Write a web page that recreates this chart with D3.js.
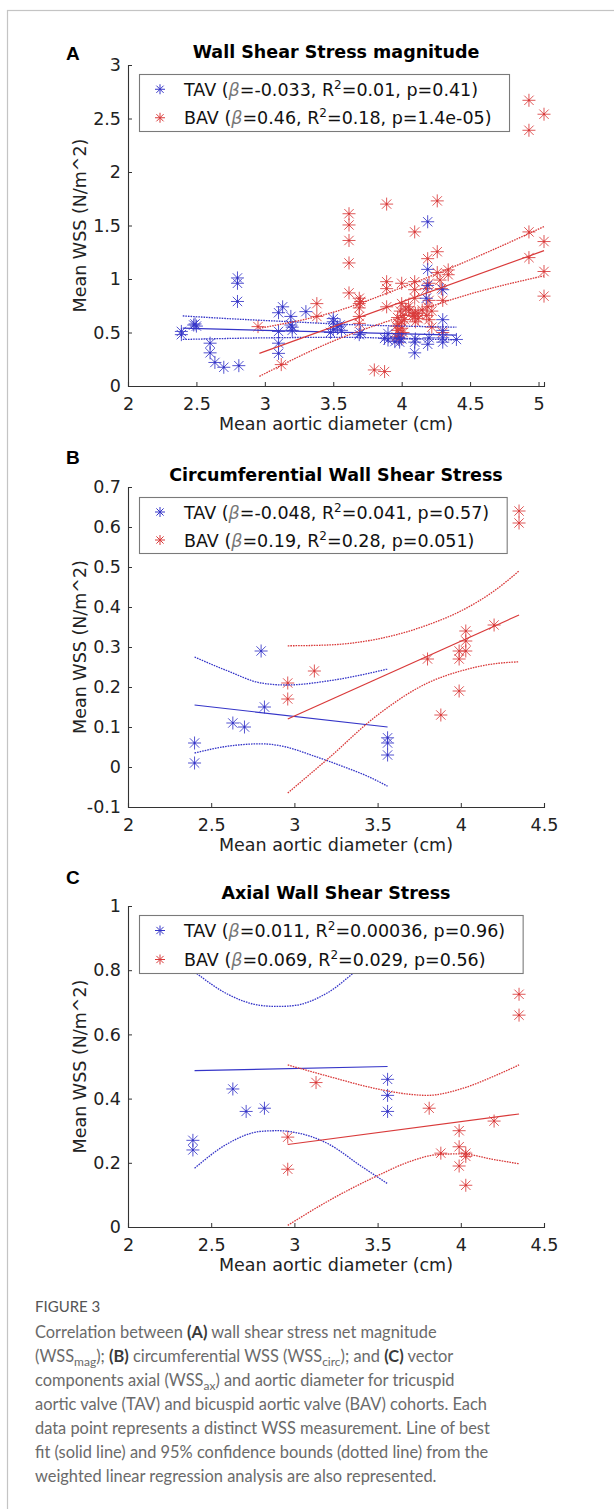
<!DOCTYPE html>
<html lang="en">
<head>
<meta charset="UTF-8">
<title>Figure 3 - WSS vs aortic diameter</title>
<script src="https://d3js.org/d3.v7.min.js"></script>
<style>
  body { margin: 0; background: #fff; }
  svg text { font-family: "DejaVu Sans", sans-serif; }
</style>
</head>
<body>
<svg id="fig" width="614" height="1509"></svg>
<script>
// ---- values ----
// panel A: WSS magnitude
const tavMag = [
  [2.39,0.51],[2.39,0.48],[2.49,0.58],[2.50,0.56],[2.48,0.57],
  [2.60,0.40],[2.60,0.31],[2.635,0.22],[2.70,0.175],[2.81,0.19],
  [2.80,1.01],[2.80,0.96],[2.80,0.79],
  [3.10,0.685],[3.13,0.74],[3.10,0.51],[3.10,0.40],[3.10,0.305],
  [3.19,0.65],[3.19,0.57],[3.20,0.52],[3.20,0.55],[3.30,0.695],
  [3.50,0.63],[3.50,0.60],[3.53,0.555],[3.56,0.52],[3.50,0.53],[3.55,0.57],[3.48,0.50],
  [3.69,0.48],[3.70,0.50],
  [3.875,0.445],[3.90,0.49],[3.90,0.43],[3.95,0.415],[3.985,0.41],[3.98,0.45],[4.00,0.44],
  [4.095,0.31],[4.095,0.41],[4.10,0.44],
  [4.19,1.535],[4.19,1.09],[4.19,0.94],[4.18,0.82],[4.19,0.39],[4.20,0.45],
  [4.30,0.90],[4.30,0.62],[4.30,0.52],[4.30,0.41],[4.30,0.45],[4.40,0.435]
];
const bavMag = [
  [2.95,0.555],[3.12,0.20],[3.38,0.77],[3.38,0.65],
  [3.615,1.61],[3.615,1.505],[3.615,1.36],[3.615,1.15],[3.615,0.87],
  [3.69,0.82],[3.69,0.77],[3.69,0.73],[3.69,0.65],[3.69,0.585],[3.70,0.79],
  [3.80,0.15],[3.875,0.135],
  [3.89,1.70],[3.89,0.975],[3.89,0.91],[3.89,0.74],
  [3.96,0.56],[3.97,0.52],[3.99,0.49],[3.96,0.46],[4.00,0.60],[3.99,0.70],[4.01,0.66],
  [4.00,0.77],[3.98,0.58],[4.00,0.54],[4.02,0.62],[3.97,0.64],[4.01,0.50],[3.98,0.44],
  [4.00,0.96],[4.03,0.72],[4.05,0.74],[4.06,0.71],[4.08,0.66],[4.10,0.68],[4.12,0.68],
  [4.15,0.71],[4.12,0.63],[4.10,0.60],
  [4.095,1.44],[4.095,0.975],[4.095,0.90],[4.095,0.82],[4.095,0.65],
  [4.26,1.73],[4.26,1.255],[4.19,1.19],[4.26,1.06],[4.20,0.96],[4.18,0.91],[4.19,0.74],
  [4.20,0.80],[4.22,0.70],[4.20,0.62],[4.22,0.55],[4.18,0.66],
  [4.28,0.99],[4.29,0.91],[4.30,0.80],[4.30,0.50],[4.34,1.085],[4.34,1.04],
  [4.93,2.67],[5.04,2.54],[4.93,2.39],[4.93,1.44],[4.93,1.20],[5.04,1.35],[5.04,1.07],[5.04,0.84]
];
const tavMagFit = [[2.40,0.54],[4.40,0.475]];
const tavMagHi = [[2.40,0.655],[2.8,0.625],[3.2,0.60],[3.6,0.575],[4.0,0.56],[4.40,0.55]];
const tavMagLo = [[2.40,0.435],[3.0,0.45],[3.5,0.455],[4.0,0.445],[4.40,0.43]];
const bavMagFit = [[2.96,0.305],[5.04,1.265]];
const bavMagHi = [[2.96,0.54],[3.5,0.69],[4.0,0.92],[4.5,1.18],[5.04,1.49]];
const bavMagLo = [[2.96,0.09],[3.5,0.42],[4.0,0.65],[4.5,0.86],[5.04,1.03]];

// panel B: circumferential WSS
const tavCirc = [[2.40,0.06],[2.40,0.01],[2.63,0.11],[2.70,0.10],[2.80,0.29],[2.82,0.15],
  [3.56,0.073],[3.56,0.06],[3.56,0.03]];
const bavCirc = [[2.96,0.21],[2.96,0.17],[3.12,0.24],[3.80,0.27],[3.88,0.13],
  [3.99,0.29],[3.99,0.27],[3.99,0.19],[4.03,0.34],[4.03,0.315],[4.03,0.29],
  [4.20,0.355],[4.35,0.64],[4.35,0.61]];
const tavCircFit = [[2.40,0.155],[3.56,0.10]];
const tavCircHi = [[2.40,0.275],[2.6,0.24],[2.8,0.21],[2.95,0.205],[3.2,0.215],[3.4,0.23],[3.56,0.245]];
const tavCircLo = [[2.40,0.035],[2.6,0.052],[2.8,0.058],[2.95,0.05],[3.1,0.03],[3.3,0.0],[3.45,-0.025],[3.56,-0.048]];
const bavCircFit = [[2.96,0.12],[4.35,0.38]];
const bavCircHi = [[2.96,0.303],[3.2,0.305],[3.5,0.32],[3.8,0.355],[4.0,0.39],[4.2,0.44],[4.35,0.49]];
const bavCircLo = [[2.96,-0.065],[3.2,0.02],[3.5,0.13],[3.8,0.21],[4.0,0.24],[4.2,0.258],[4.35,0.263]];

// panel C: axial WSS
const tavAx = [[2.39,0.27],[2.39,0.24],[2.63,0.43],[2.71,0.36],[2.82,0.37],
  [3.56,0.46],[3.56,0.41],[3.56,0.36]];
const bavAx = [[2.96,0.28],[2.96,0.18],[3.13,0.45],[3.81,0.37],[3.88,0.23],
  [3.99,0.30],[3.99,0.25],[3.99,0.19],[4.03,0.23],[4.03,0.22],[4.03,0.13],
  [4.20,0.33],[4.35,0.725],[4.35,0.66]];
const tavAxFit = [[2.40,0.487],[3.56,0.50]];
const tavAxHi = [[2.40,0.795],[2.6,0.725],[2.8,0.69],[2.9,0.687],[3.0,0.69],[3.2,0.73],[3.4,0.81],[3.56,0.87]];
const tavAxLo = [[2.40,0.183],[2.6,0.26],[2.8,0.298],[2.9,0.30],[3.0,0.295],[3.2,0.26],[3.4,0.19],[3.56,0.135]];
const bavAxFit = [[2.96,0.257],[4.35,0.352]];
const bavAxHi = [[2.96,0.505],[3.2,0.47],[3.5,0.43],[3.7,0.413],[3.8,0.41],[4.0,0.43],[4.2,0.47],[4.35,0.505]];
const bavAxLo = [[2.96,0.005],[3.2,0.08],[3.5,0.16],[3.7,0.205],[3.85,0.225],[4.0,0.228],[4.2,0.21],[4.35,0.197]];

// ticks
const xTicksA = [2, 2.5, 3, 3.5, 4, 4.5, 5];
const xTicksBC = [2, 2.5, 3, 3.5, 4, 4.5];
const yTicksA = [0, 0.5, 1, 1.5, 2, 2.5, 3];
const yTicksB = [-0.1, 0, 0.1, 0.2, 0.3, 0.4, 0.5, 0.6, 0.7];
const yTicksC = [0, 0.2, 0.4, 0.6, 0.8, 1];

// legend statistics [beta, R2, p]
const statsA = [["-0.033", "0.01", "0.41"], ["0.46", "0.18", "1.4e-05"]];
const statsB = [["-0.048", "0.041", "0.57"], ["0.19", "0.28", "0.051"]];
const statsC = [["0.011", "0.00036", "0.96"], ["0.069", "0.029", "0.56"]];
const groups = ["TAV", "BAV"];

const captionLines = [
  [["Correlation between "], ["(A)", "b"], [" wall shear stress net magnitude"]],
  [["(WSS"], ["mag", "sub"], ["); "], ["(B)", "b"], [" circumferential WSS (WSS"], ["circ", "sub"], ["); and "], ["(C)", "b"], [" vector"]],
  [["components axial (WSS"], ["ax", "sub"], [") and aortic diameter for tricuspid"]],
  [["aortic valve (TAV) and bicuspid aortic valve (BAV) cohorts. Each"]],
  [["data point represents a distinct WSS measurement. Line of best"]],
  [["fit (solid line) and 95% confidence bounds (dotted line) from the"]],
  [["weighted linear regression analysis are also represented."]]
];

// ---- drawing ----
const BLUE = "#3535c8", RED = "#d93a3a", AXIS = "#333";
const svg = d3.select("#fig");
const fmt = v => d3.format("~g")(v).replace("\u2212", "-");

// page frame
svg.append("rect").attr("x", 7.5).attr("y", 10.5).attr("width", 640).attr("height", 1540)
  .attr("fill", "none").attr("stroke", "#c4c4c4").attr("stroke-width", 1.2);

const panels = [
  { letter: "A", letterY: 60, title: "Wall Shear Stress magnitude", titleY: 58,
    top: 65, bottom: 386, xDom: [2, 5.04], yDom: [0, 3], xTicks: xTicksA, yTicks: yTicksA,
    tav: tavMag, bav: bavMag, tavLines: [tavMagFit, tavMagHi, tavMagLo], bavLines: [bavMagFit, bavMagHi, bavMagLo],
    stats: statsA, legTop: 74, legBottom: 131 },
  { letter: "B", letterY: 464, title: "Circumferential Wall Shear Stress", titleY: 481,
    top: 487, bottom: 807, xDom: [2, 4.5], yDom: [-0.1, 0.7], xTicks: xTicksBC, yTicks: yTicksB,
    tav: tavCirc, bav: bavCirc, tavLines: [tavCircFit, tavCircHi, tavCircLo], bavLines: [bavCircFit, bavCircHi, bavCircLo],
    stats: statsB, legTop: 497, legBottom: 553 },
  { letter: "C", letterY: 884, title: "Axial Wall Shear Stress", titleY: 899,
    top: 906, bottom: 1227, xDom: [2, 4.5], yDom: [0, 1], xTicks: xTicksBC, yTicks: yTicksC,
    tav: tavAx, bav: bavAx, tavLines: [tavAxFit, tavAxHi, tavAxLo], bavLines: [bavAxFit, bavAxHi, bavAxLo],
    stats: statsC, legTop: 915, legBottom: 973 }
];

const left = 128, right = 544;

function star(x, y, r) {
  const d = r * 0.72;
  return `M${x - r},${y}H${x + r}M${x},${y - r}V${y + r}` +
         `M${x - d},${y - d}L${x + d},${y + d}M${x - d},${y + d}L${x + d},${y - d}`;
}

panels.forEach(p => {
  const g = svg.append("g");
  const x = d3.scaleLinear().domain(p.xDom).range([left, right]);
  const y = d3.scaleLinear().domain(p.yDom).range([p.bottom, p.top]);

  g.append("text").attr("x", 66).attr("y", p.letterY)
    .style("font-family", "'Liberation Sans', Arial, sans-serif")
    .attr("font-weight", "bold").attr("font-size", 19).text(p.letter);
  g.append("text").attr("x", (left + right) / 2).attr("y", p.titleY)
    .attr("text-anchor", "middle").attr("font-weight", "bold").attr("font-size", 17.5).text(p.title);

  // axes (box off, ticks inward)
  const xAxis = g.append("g").attr("transform", `translate(0,${p.bottom})`)
    .call(d3.axisBottom(x).tickValues(p.xTicks).tickSize(-4).tickPadding(9).tickFormat(fmt));
  const yAxis = g.append("g").attr("transform", `translate(${left},0)`)
    .call(d3.axisLeft(y).tickValues(p.yTicks).tickSize(-4).tickPadding(7).tickFormat(fmt));
  [xAxis, yAxis].forEach(a => {
    a.select(".domain").attr("stroke", AXIS).attr("stroke-width", 1.1);
    a.selectAll(".tick line").attr("stroke", AXIS);
    a.selectAll(".tick text").attr("fill", "#222").style("font-family", "'DejaVu Sans', sans-serif").attr("font-size", 17.5);
  });
  xAxis.selectAll(".tick text").attr("dy", "0.85em");

  g.append("text").attr("x", (left + right) / 2).attr("y", p.bottom + 44)
    .attr("text-anchor", "middle").attr("font-size", 17.5).attr("fill", "#222").text("Mean aortic diameter (cm)");
  g.append("text").attr("transform", `translate(86,${(p.top + p.bottom) / 2}) rotate(-90)`)
    .attr("text-anchor", "middle").attr("font-size", 17.5).attr("fill", "#222").text("Mean WSS (N/m^2)");

  // scatter
  const plotSeries = (pts, color) => {
    g.append("g").selectAll("path").data(pts).join("path")
      .attr("d", d => star(x(d[0]), y(d[1]), 6.5))
      .attr("fill", "none").attr("stroke", color).attr("stroke-width", 1).attr("stroke-opacity", 0.85);
    g.append("g").selectAll("circle").data(pts).join("circle")
      .attr("cx", d => x(d[0])).attr("cy", d => y(d[1])).attr("r", 1.1).attr("fill", color);
  };
  plotSeries(p.bav, RED);
  plotSeries(p.tav, BLUE);

  // regression line + 95% CI
  const line = d3.line().x(d => x(d[0])).y(d => y(d[1])).curve(d3.curveMonotoneX);
  const drawLines = (set, color) => {
    set.forEach((pts, i) => {
      g.append("path").datum(pts).attr("d", line).attr("fill", "none")
        .attr("stroke", color).attr("stroke-width", i === 0 ? 1.2 : 1.3)
        .attr("stroke-dasharray", i === 0 ? null : "1.6,1");
    });
  };
  drawLines(p.tavLines, BLUE);
  drawLines(p.bavLines, RED);

  // legend
  const leg = g.append("g");
  const box = leg.append("rect").attr("x", 139.5).attr("y", p.legTop + 0.5)
    .attr("height", p.legBottom - p.legTop).attr("fill", "#fff").attr("stroke", "#7a7a7a").attr("stroke-width", 1.1);
  const rowGap = (p.legBottom - p.legTop) / 2;
  let maxRight = 0;
  groups.forEach((name, i) => {
    const cy = p.legTop + rowGap * (i + 0.5) + 1;
    leg.append("path").attr("d", star(160, cy, 5)).attr("fill", "none")
      .attr("stroke", i === 0 ? BLUE : RED).attr("stroke-width", 1);
    const s = p.stats[i];
    const t = leg.append("text").attr("x", 184).attr("y", cy + 6.5).attr("font-size", 17.5).attr("fill", "#111");
    t.append("tspan").text(`${name} (`);
    t.append("tspan").attr("font-style", "italic").attr("fill", "#777").text("\u03b2");
    t.append("tspan").text(`=${s[0]}, R`);
    t.append("tspan").attr("font-size", 12).attr("dy", -7).text("2");
    t.append("tspan").attr("dy", 7).text(`=${s[1]}, p=${s[2]})`);
    maxRight = Math.max(maxRight, 184 + t.node().getComputedTextLength());
  });
  box.attr("width", maxRight + 18 - 139.5);
});

// caption
const cap = svg.append("g");
cap.append("text").attr("x", 35).attr("y", 1312).attr("font-size", 15).attr("fill", "#555")
  .style("font-family", "Lato, sans-serif").text("FIGURE 3");
captionLines.forEach((parts, i) => {
  const t = cap.append("text").attr("x", 35).attr("y", 1338 + i * 24)
    .attr("font-size", 16.4).attr("fill", "#6a6a6a").style("font-family", "Lato, sans-serif");
  let shift = 0;
  parts.forEach(([txt, kind]) => {
    const s = t.append("tspan").text(txt);
    if (kind === "sub") {
      s.attr("font-size", 12).attr("dy", 4);
      shift = -4;
      return;
    }
    if (shift) { s.attr("dy", shift); shift = 0; }
    if (kind === "b") s.attr("font-weight", "bold").attr("fill", "#3a3a3a");
  });
});
</script>
</body>
</html>
